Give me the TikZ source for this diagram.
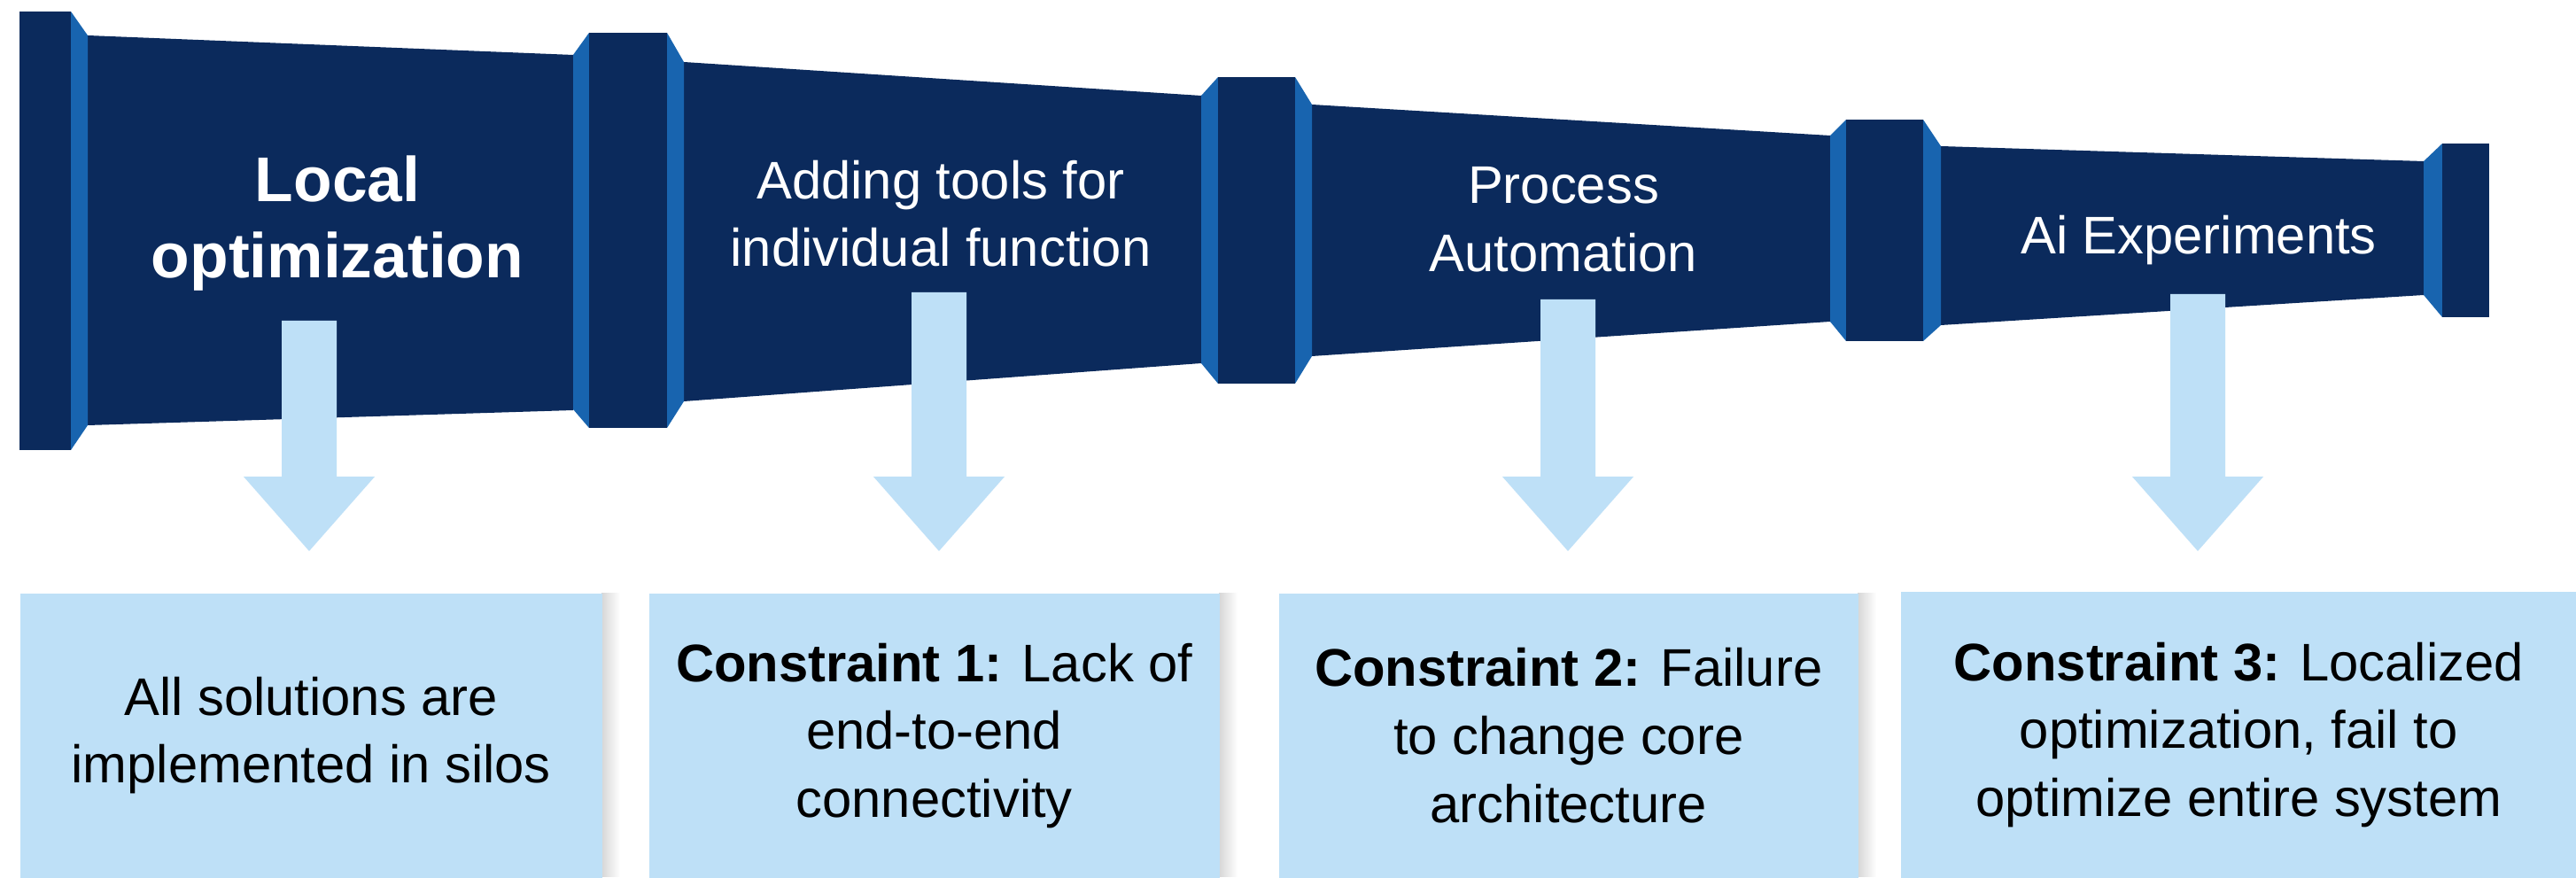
\documentclass[tikz,border=0pt]{standalone}
\usepackage{fontspec}
\setmainfont{Liberation Sans}
\usetikzlibrary{calc, fadings}

\definecolor{navy}{RGB}{11,42,92}
\definecolor{rimblue}{RGB}{24,100,175}
\definecolor{paleblue}{RGB}{190,224,247}

\tikzset{
  pipe/.style  = {fill=navy},
  bevel/.style = {fill=rimblue},
  head/.style  = {
    text=white, align=center, inner sep=0pt,
    font=\fontsize{17}{21.8}\selectfont
  },
  headbold/.style = {head, font=\fontsize{20.3}{24.4}\selectfont\bfseries},
  note/.style  = {
    fill=paleblue, anchor=north west, inner sep=0pt,
    align=center,
    font=\fontsize{17}{21.8}\selectfont
  },
  shade/.style = {fill=black, opacity=0.16, path fading=east},
}

% block arrow: stem top #1, tip #2
\newcommand{\flowarrow}[2]{%
  \fill[paleblue] ($(#1)+(-0.31,0)$) -- ($(#1)+(0.31,0)$) -- ($(#2)+(0.31,0.84)$)
    -- ($(#2)+(0.74,0.84)$) -- (#2) -- ($(#2)+(-0.74,0.84)$)
    -- ($(#2)+(-0.31,0.84)$) -- cycle;}

\begin{document}
\begin{tikzpicture}

\useasboundingbox (0,0) rectangle (29.08,9.90);
\fill[white] (0,0) rectangle (29.08,9.90);

%% ── Pipe sections (narrowing to the right) ─────────────────────────────────
\fill[pipe] (0.99,9.50) -- (6.47,9.28) -- (6.47,5.27) -- (0.99,5.10) -- cycle;
\fill[pipe] (7.72,9.20) -- (13.56,8.82) -- (13.56,5.80) -- (7.72,5.37) -- cycle;
\fill[pipe] (14.81,8.72) -- (20.66,8.37) -- (20.66,6.27) -- (14.81,5.88) -- cycle;
\fill[pipe] (21.91,8.25) -- (27.36,8.08) -- (27.36,6.57) -- (21.91,6.23) -- cycle;

%% ── Flanges ────────────────────────────────────────────────────────────────
\fill[pipe]  (0.22,9.77) rectangle (0.80,4.82);
\fill[bevel] (0.80,9.77) -- (0.99,9.50) -- (0.99,5.10) -- (0.80,4.82) -- cycle;

\fill[bevel] (6.47,9.28) -- (6.65,9.53) -- (6.65,5.07) -- (6.47,5.28) -- cycle;
\fill[pipe]  (6.65,9.53) rectangle (7.53,5.07);
\fill[bevel] (7.53,9.53) -- (7.72,9.20) -- (7.72,5.37) -- (7.53,5.07) -- cycle;

\fill[bevel] (13.56,8.82) -- (13.75,9.03) -- (13.75,5.57) -- (13.56,5.80) -- cycle;
\fill[pipe]  (13.75,9.03) rectangle (14.62,5.57);
\fill[bevel] (14.62,9.03) -- (14.81,8.72) -- (14.81,5.88) -- (14.62,5.57) -- cycle;

\fill[bevel] (20.66,8.37) -- (20.84,8.55) -- (20.84,6.05) -- (20.66,6.27) -- cycle;
\fill[pipe]  (20.84,8.55) rectangle (21.71,6.05);
\fill[bevel] (21.71,8.55) -- (21.91,8.25) -- (21.91,6.23) -- (21.71,6.05) -- cycle;

\fill[bevel] (27.36,8.08) -- (27.57,8.28) -- (27.57,6.32) -- (27.36,6.57) -- cycle;
\fill[pipe]  (27.57,8.28) rectangle (28.10,6.32);

%% ── Stage labels ───────────────────────────────────────────────────────────
\node[headbold] (L1) at (3.81, 7.38)  {Local\\optimization};
\node[head]     (L2) at (10.62, 7.49) {Adding tools for\\individual function};
\node[head]     (L3) at (17.65, 7.42) {Process\\Automation};
\node[head, anchor=base] (L4) at (24.82, 7.03) {Ai Experiments};

%% ── Outcome boxes ──────────────────────────────────────────────────────────
\fill[shade] (6.79,3.21) rectangle (7.00,0);
\fill[shade] (13.76,3.21) rectangle (13.97,0);
\fill[shade] (20.97,3.21) rectangle (21.18,0);

\node[note, minimum width=6.57cm, minimum height=3.21cm] (B1) at (0.22, 3.21)
  {All solutions are\\implemented in silos};
\node[note, minimum width=6.44cm, minimum height=3.21cm] (B2) at (7.32, 3.21)
  {\textbf{Constraint 1:} Lack of\\end-to-end\\connectivity};
\node[note, minimum width=6.54cm, minimum height=3.21cm] (B3) at (14.43, 3.21)
  {\textbf{Constraint 2:} Failure\\to change core\\architecture};
\node[note, minimum width=7.63cm, minimum height=3.23cm] (B4) at (21.45, 3.23)
  {\textbf{Constraint 3:} Localized\\optimization, fail to\\optimize entire system};

%% ── Arrows: stage -> box ───────────────────────────────────────────────────
\coordinate (s1) at (3.49, 6.28);
\coordinate (s2) at (10.60, 6.60);
\coordinate (s3) at (17.70, 6.52);
\coordinate (s4) at (24.81, 6.58);
\coordinate (t1) at ($(s1 |- B1.north)+(0,0.47)$);
\coordinate (t2) at ($(s2 |- B2.north)+(0,0.47)$);
\coordinate (t3) at ($(s3 |- B3.north)+(0,0.47)$);
\coordinate (t4) at ($(s4 |- B4.north)+(0,0.45)$);

\flowarrow{s1}{t1}
\flowarrow{s2}{t2}
\flowarrow{s3}{t3}
\flowarrow{s4}{t4}

\end{tikzpicture}
\end{document}
